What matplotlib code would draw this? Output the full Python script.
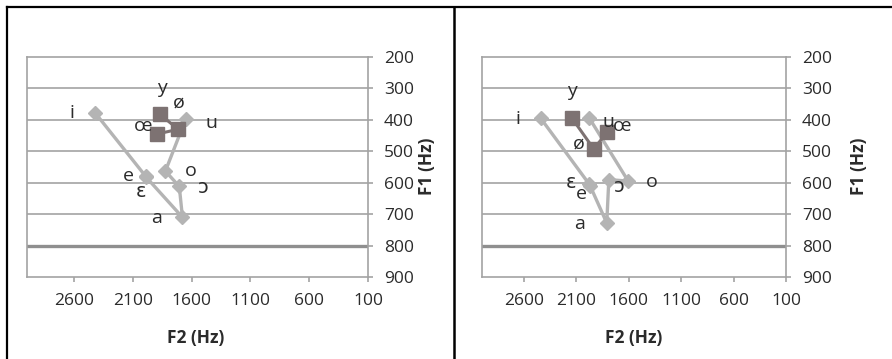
import matplotlib
matplotlib.use('Agg')
import matplotlib.pyplot as plt
from matplotlib.lines import Line2D

plt.rcParams['font.family'] = ['Open Sans', 'DejaVu Sans']

# left speaker: vowels joined by the light line (diamonds)
left_vowels = ['i', 'e', 'ɛ', 'a', 'ɔ', 'o', 'u']
left_f2 = [2420, 1990, 1985, 1678, 1705, 1823, 1650]
left_f1 = [378, 580, 583, 710, 612, 563, 397]
# left speaker: front rounded vowels (squares)
left_round = ['y', 'ø', 'œ']
left_round_f2 = [1872, 1714, 1893]
left_round_f1 = [382, 430, 445]

# right speaker
right_vowels = ['i', 'e', 'ɛ', 'a', 'ɔ', 'o', 'u']
right_f2 = [2440, 1965, 1975, 1810, 1790, 1605, 1975]
right_f1 = [395, 610, 605, 728, 590, 595, 395]
right_round = ['y', 'ø', 'œ']
right_round_f2 = [2145, 1935, 1805]
right_round_f1 = [393, 492, 440]

x_ticks = [2600, 2100, 1600, 1100, 600, 100]
y_ticks = [200, 300, 400, 500, 600, 700, 800, 900]

# label offsets in pixels (dx, dy), dy up
left_offsets = {'i': (-23, 0), 'e': (-17, 0), 'ɛ': (-5, -15), 'a': (-26, -1),
                'ɔ': (24, -2), 'o': (25, 0), 'u': (26, -4),
                'y': (2, 26), 'ø': (1, 27), 'œ': (-14, 8)}
right_offsets = {'i': (-23, -1), 'e': (-9, -8), 'ɛ': (-18, 1), 'a': (-27, -1),
                 'ɔ': (10, -7), 'o': (24, -1), 'u': (19, -4),
                 'y': (0, 27), 'ø': (-15, 5), 'œ': (15, 6)}

light = '#b4b4b4'
dark = '#7d7272'
grid = '#a3a3a3'
txt = '#2b2b2b'


def panel(ax, f2, f1, names, rf2, rf1, rnames, offsets):
    ax.set_xlim(3000, 100)
    ax.set_ylim(900, 200)
    ax.set_xticks(x_ticks)
    ax.set_yticks(y_ticks)
    ax.yaxis.tick_right()
    ax.tick_params(axis='both', direction='out', length=3.6, width=1.2,
                   color=grid, labelsize=12.5, labelcolor=txt, pad=8)
    for s in ax.spines.values():
        s.set_color(grid)
        s.set_linewidth(1.2)
    for v in y_ticks[1:-1]:
        if v == 800:
            ax.axhline(v, color='#8f8f8f', lw=2.4, zorder=1)
        else:
            ax.axhline(v, color=grid, lw=1.2, zorder=1)

    ax.plot(f2, f1, color=light, lw=2.4, marker='D', ms=7.5, zorder=3)
    ax.plot(rf2, rf1, color=dark, lw=2.2, marker='s', ms=10, zorder=4)

    for n, x, y in list(zip(names, f2, f1)) + list(zip(rnames, rf2, rf1)):
        dx, dy = offsets[n]
        ax.annotate(n, (x, y), xytext=(dx, dy), textcoords='offset pixels',
                    ha='center', va='center', fontsize=14, color=txt, zorder=5)


fig = plt.figure(figsize=(8.92, 3.59), dpi=100)
H = 359.0
W = 892.0

ax1 = fig.add_axes([27 / W, 1 - 277 / H, 341 / W, 220 / H])
panel(ax1, left_f2, left_f1, left_vowels, left_round_f2, left_round_f1, left_round, left_offsets)
ax2 = fig.add_axes([482 / W, 1 - 277 / H, 304 / W, 220 / H])
panel(ax2, right_f2, right_f1, right_vowels, right_round_f2, right_round_f1, right_round, right_offsets)

# axis titles
for cx, ly in [(196, 427), (634, 859)]:
    fig.text(cx / W, 1 - 338 / H, 'F2 (Hz)', ha='center', va='center',
             fontsize=12.5, weight='bold', color=txt)
    fig.text(ly / W, 1 - 166 / H, 'F1 (Hz)', ha='center', va='center',
             rotation=90, fontsize=12.5, weight='bold', color=txt)

# frame lines
fig.add_artist(Line2D([7 / W, 1], [1 - 7 / H, 1 - 7 / H], color='black', lw=1.6))
fig.add_artist(Line2D([7 / W, 7 / W], [0, 1 - 7 / H], color='black', lw=1.6))
fig.add_artist(Line2D([453.5 / W, 453.5 / W], [0, 1 - 7 / H], color='black', lw=1.8))

fig.savefig('out.png', dpi=100)
